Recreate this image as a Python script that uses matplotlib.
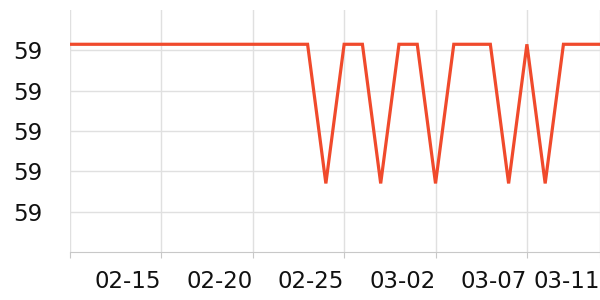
import numpy as np
import pandas as pd
import matplotlib
matplotlib.use("Agg")
import matplotlib.pyplot as plt
import matplotlib.dates as mdates

# daily series, 2025-02-10 .. 2025-03-11
dates = pd.date_range("2025-02-10", "2025-03-11", freq="D")
high = 59.0015
low = 58.967
values = [high] * 14 + [low, high, high, low, high, high, low, high, high, high,
                        low, high, low, high, high, high]

tick_dates = pd.to_datetime(["2025-02-10", "2025-02-15", "2025-02-20", "2025-02-25",
                             "2025-03-02", "2025-03-07", "2025-03-11"])
tick_labels = ["", "02-15", "02-20", "02-25", "03-02", "03-07", "03-11"]
y_ticks = [58.96, 58.97, 58.98, 58.99, 59.00]
y_labels = ["59"] * 5

fig = plt.figure(figsize=(6, 3), dpi=100)
ax = fig.add_axes([70 / 600, 48 / 300, 530 / 600, 242 / 300])

ax.plot(dates, values, color="#f04a2c", linewidth=2.3, solid_joinstyle="miter")

ax.set_xlim(dates[0], dates[-1])
ax.set_ylim(58.95, 59.01)

ax.set_xticks(tick_dates)
ax.set_xticklabels(tick_labels, ha="right")
ax.set_yticks(y_ticks)
ax.set_yticklabels(y_labels)

ax.grid(True, color="#e0e0e0", linewidth=1)
ax.set_axisbelow(True)
for s in ["top", "right", "left"]:
    ax.spines[s].set_visible(False)
ax.spines["bottom"].set_color("#c8c8c8")
ax.tick_params(axis="x", length=4, color="#c8c8c8", pad=9, labelsize=16.5, labelcolor="#111111")
ax.tick_params(axis="y", length=0, pad=20, labelsize=16.5, labelcolor="#111111")

fig.savefig("out.png", dpi=100)
